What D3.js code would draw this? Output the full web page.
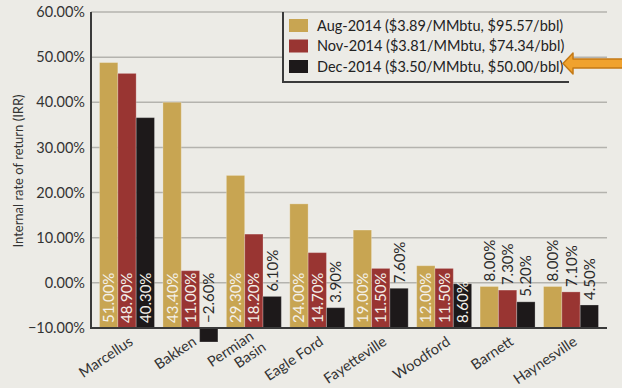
<!DOCTYPE html>
<html><head><meta charset="utf-8">
<script src="https://cdn.jsdelivr.net/npm/d3@7"></script>
<style>
html,body{margin:0;padding:0;background:#ECEBE6;}
svg{display:block;font-family:Lato, "Open Sans", sans-serif;}
</style></head>
<body><svg id="chart" width="622" height="388"></svg>
<script>
const categories = ["Marcellus","Bakken","Permian Basin","Eagle Ford","Fayetteville","Woodford","Barnett","Haynesville"];
const seriesNames = ["Aug-2014 ($3.89/MMbtu, $95.57/bbl)","Nov-2014 ($3.81/MMbtu, $74.34/bbl)","Dec-2014 ($3.50/MMbtu, $50.00/bbl)"];
// bar heights as drawn in the picture (percent)
const augValues = [48.8, 40.0, 23.8, 17.5, 11.7, 3.8, -0.8, -0.8];
const novValues = [46.4, 2.7, 10.8, 6.7, 3.2, 3.2, -1.6, -2.0];
const decValues = [36.6, -13.1, -3.0, -5.5, -1.2, -0.2, -4.2, -4.9];
// data label texts as printed
const augLabels = ["51.00%","43.40%","29.30%","24.00%","19.00%","12.00%","8.00%","8.00%"];
const novLabels = ["48.90%","11.00%","18.20%","14.70%","11.50%","11.50%","7.30%","7.10%"];
const decLabels = ["40.30%","\u22122.60%","6.10%","3.90%","7.60%","8.60%","5.20%","4.50%"];
// label placement: "in" = inside base (white), "out" = outside end (dark)
const augPlace = ["in","in","in","in","in","in","out","out"];
const novPlace = ["in","in","in","in","in","in","out","out"];
const decPlace = ["in","out","out","out","out","in","out","out"];
const yTicks = [-10,0,10,20,30,40,50,60];
const colors = ["#C8A552","#993532","#1D191A"];

const values = [augValues, novValues, decValues];
const labels = [augLabels, novLabels, decLabels];
const places = [augPlace, novPlace, decPlace];

const svg = d3.select("#chart");
const L = 91, R = 607, T = 12, B = 328;

const y = d3.scaleLinear().domain([-10,60]).range([B,T]);
const x0 = d3.scaleBand().domain(categories).range([L,R]).paddingInner(0.133).paddingOuter(0.134);
const x1 = d3.scaleBand().domain([0,1,2]).range([0,x0.bandwidth()]).padding(0);

// gridlines
svg.append("g").selectAll("line").data(yTicks.filter(d=>d>-10)).join("line")
  .attr("x1",L).attr("x2",R).attr("y1",d=>y(d)).attr("y2",d=>y(d))
  .attr("stroke","#B4B3AE").attr("stroke-width",1.5);

// y axis labels
const yAxis = d3.axisLeft(y).tickValues(yTicks).tickSize(0).tickPadding(6)
  .tickFormat(d => (d<0?"\u2212":"") + Math.abs(d).toFixed(2) + "%");
const gy = svg.append("g").attr("transform",`translate(${L},0)`).call(yAxis);
gy.select(".domain").remove();
gy.selectAll("text").attr("font-size",14.5).attr("fill","#333").attr("font-family","Lato");

// bars
const groups = svg.append("g").selectAll("g").data(categories).join("g")
  .attr("transform",d=>`translate(${x0(d)},0)`);
groups.each(function(cat, ci){
  const g = d3.select(this);
  for (let s=0;s<3;s++){
    const v = values[s][ci];
    const y0 = y(-10), yv = y(v);
    g.append("rect").attr("x",x1(s)).attr("width",x1.bandwidth())
      .attr("y",Math.min(y0,yv)).attr("height",Math.abs(yv-y0))
      .attr("fill",colors[s]).attr("stroke","rgba(255,255,255,0.25)").attr("stroke-width",1);
  }
});

// axis lines
svg.append("line").attr("x1",L).attr("x2",R).attr("y1",B).attr("y2",B).attr("stroke","#3A3A3A").attr("stroke-width",2);
svg.append("line").attr("x1",L).attr("x2",L).attr("y1",T).attr("y2",B+1).attr("stroke","#3A3A3A").attr("stroke-width",2);

// data labels
groups.each(function(cat, ci){
  const g = d3.select(this);
  for (let s=0;s<3;s++){
    const v = values[s][ci];
    const cx = x1(s) + x1.bandwidth()/2 + 5.5;
    const inside = places[s][ci]==="in";
    const top = Math.min(y(v), y(-10));
    const sy = inside ? B - 5 : top - 5;
    g.append("text").attr("transform",`translate(${cx},${sy}) rotate(-90)`)
      .attr("text-anchor","start").attr("font-size",15)
      .attr("fill", inside ? "#F4F1EA" : "#2A2A2A")
      .text(labels[s][ci]);
  }
});

// x labels
groups.each(function(cat){
  const g = d3.select(this);
  const cx = x0.bandwidth()/2 + 7;
  const lines = cat==="Permian Basin" ? ["Permian","Basin"] : [cat];
  const t = g.append("text").attr("transform",`translate(${cx},344) rotate(-34)`)
    .attr("text-anchor","end").attr("font-size",14.5).attr("fill","#333");
  if (lines.length===1) t.text(cat);
  else {
    t.append("tspan").attr("x",-2).attr("y",-8).text(lines[0]);
    t.append("tspan").attr("x",2).attr("y",8).text(lines[1]);
  }
});

// y title
svg.append("text").attr("transform","translate(23,171) rotate(-90)")
  .attr("text-anchor","middle").attr("font-size",13).attr("fill","#333")
  .text("Internal rate of return (IRR)");

// legend
const lg = svg.append("g");
lg.append("rect").attr("x",283).attr("y",13).attr("width",286).attr("height",69).attr("fill","#ECEBE6");
lg.append("line").attr("x1",283).attr("x2",283).attr("y1",12).attr("y2",82).attr("stroke","#3A3A3A").attr("stroke-width",2);
lg.append("line").attr("x1",282).attr("x2",569).attr("y1",82).attr("y2",82).attr("stroke","#3A3A3A").attr("stroke-width",2);
seriesNames.forEach((n,i)=>{
  const ry = 19 + i*20.5;
  lg.append("rect").attr("x",289).attr("y",ry).attr("width",19).attr("height",13).attr("fill",colors[i]);
  lg.append("text").attr("x",317).attr("y",ry+11.5).attr("font-size",14.5).attr("fill","#222").text(n);
});

// arrow
svg.append("path")
  .attr("d","M563,63.5 L573,53 L573,59 L625,59 L625,68 L573,68 L573,74 Z")
  .attr("fill","#F0A22E").attr("stroke","#C47A16").attr("stroke-width",1.5).attr("stroke-linejoin","round");
</script></body></html>
